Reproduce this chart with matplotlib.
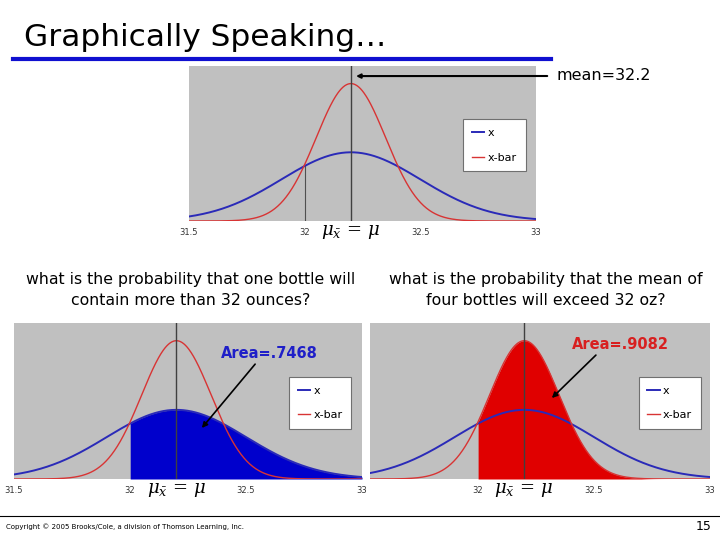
import numpy as np
import matplotlib
matplotlib.use('Agg')
import matplotlib.pyplot as plt

# bottle fill data (ounces)
mean = 32.2
sigma = 0.3
n_bottles = 4
cutoff = 32
tick_vals = [31.5, 32, 32.5, 33]
tick_labels = ['31.5', '32', '32.5', '33']
legend_labels = ['x', 'x-bar']
area_one = '.7468'
area_mean = '.9082'

BLUE = '#2a2ab8'
RED = '#d83434'
GRAY = '#c0c0c0'

W, H = 720, 540


def px_axes(fig, left, top, right, bottom):
    return fig.add_axes([left / W, 1 - bottom / H, (right - left) / W, (bottom - top) / H])


def pdf(x, m, s):
    return np.exp(-0.5 * ((x - m) / s) ** 2) / (s * np.sqrt(2 * np.pi))


xs = np.linspace(31.5, 33, 600)
y_x = pdf(xs, mean, sigma)
y_bar = pdf(xs, mean, sigma / np.sqrt(n_bottles))


def base_chart(ax, xmin=31.5, shade=None, cut_line=False, first_tick=True):
    ax.set_facecolor(GRAY)
    ax.set_xlim(xmin, 33)
    ax.set_ylim(0, 3.0)
    for s in ax.spines.values():
        s.set_visible(False)
    ax.set_yticks([])
    if first_tick:
        ax.set_xticks(tick_vals)
        ax.set_xticklabels(tick_labels)
    else:
        ax.set_xticks(tick_vals[1:])
        ax.set_xticklabels(tick_labels[1:])
    ax.tick_params(axis='x', length=0, labelsize=6, labelcolor='#333333', pad=5)
    ax.axvline(mean, color='#404040', lw=1, zorder=4)
    m = xs >= cutoff
    if shade == 'x':
        ax.fill_between(xs[m], 0, y_x[m], color='#0000cc', lw=0, zorder=1)
    if shade == 'bar':
        ax.fill_between(xs[m], 0, y_bar[m], color='#e00000', lw=0, zorder=1)
    ax.plot(xs, y_x, color=BLUE, lw=1.4, label=legend_labels[0], zorder=3)
    ax.plot(xs, y_bar, color=RED, lw=1.0, label=legend_labels[1], zorder=3)
    if cut_line:
        ycross = pdf(cutoff, mean, sigma / np.sqrt(n_bottles))
        ax.plot([cutoff, cutoff], [0, ycross], color='#505050', lw=0.8, zorder=2)
    leg = ax.legend(loc='lower left', bbox_to_anchor=(0.79, 0.32), borderaxespad=0,
                    fontsize=8, handlelength=1.1, handletextpad=0.3, labelspacing=1.3,
                    fancybox=False, framealpha=1, edgecolor='#707070',
                    borderpad=0.8)
    leg.get_frame().set_linewidth(0.8)
    ax.text(mean, -0.07, r'$\mu_{\bar{x}}\,=\,\mu$', transform=ax.get_xaxis_transform(),
            ha='center', va='center', fontsize=13, math_fontfamily='dejavuserif')


fig = plt.figure(figsize=(7.2, 5.4), dpi=100)

# title and rule
fig.text(24 / W, 1 - 38 / H, 'Graphically Speaking\u2026', fontsize=22.5, va='center', ha='left')
fig.add_artist(plt.Line2D([13 / W, 551 / W], [1 - 59 / H, 1 - 59 / H], color='#1010d0', lw=3))

# top chart
ax1 = px_axes(fig, 189, 66, 536, 221)
base_chart(ax1, cut_line=True)
fig.text(556 / W, 1 - 76 / H, 'mean=32.2', fontsize=11.5, va='center', ha='left')
ax1.annotate('', xy=(mean + 0.01, 0.935), xycoords=('data', 'axes fraction'),
             xytext=(550 / W, 1 - 76 / H), textcoords='figure fraction',
             arrowprops=dict(arrowstyle='-|>', color='black', lw=1.5, mutation_scale=6),
             annotation_clip=False)

# questions
fig.text(191 / W, 1 - 290 / H, 'what is the probability that one bottle will\ncontain more than 32 ounces?',
         ha='center', va='center', fontsize=11.3, linespacing=1.45)
fig.text(546 / W, 1 - 290 / H, 'what is the probability that the mean of\nfour bottles will exceed 32 oz?',
         ha='center', va='center', fontsize=11.3, linespacing=1.45)

# bottom left
ax2 = px_axes(fig, 14, 323, 362, 479)
base_chart(ax2, shade='x')
ax2.text(32.6, 2.42, 'Area=' + area_one, color='#1f1fc8', fontsize=10.5, fontweight='bold',
         ha='center', va='center')
ax2.annotate('', xy=(32.302, 0.94), xytext=(32.547, 2.25),
             arrowprops=dict(arrowstyle='-|>', color='black', lw=1.2, mutation_scale=8))

# bottom right
ax3 = px_axes(fig, 370, 323, 710, 479)
base_chart(ax3, xmin=31.535, shade='bar', first_tick=False)
ax3.text(32.616, 2.58, 'Area=' + area_mean, color='#d82020', fontsize=10.5, fontweight='bold',
         ha='center', va='center')
ax3.annotate('', xy=(32.31, 1.52), xytext=(32.517, 2.42),
             arrowprops=dict(arrowstyle='-|>', color='black', lw=1.2, mutation_scale=8))

# footer
fig.add_artist(plt.Line2D([0, 1], [1 - 516 / H, 1 - 516 / H], color='black', lw=0.8))
fig.text(6 / W, 1 - 527 / H, 'Copyright \u00a9 2005 Brooks/Cole, a division of Thomson Learning, Inc.',
         fontsize=5, va='center', ha='left')
fig.text(712 / W, 1 - 527 / H, '15', fontsize=9, va='center', ha='right')

fig.savefig('out.png', dpi=100)
